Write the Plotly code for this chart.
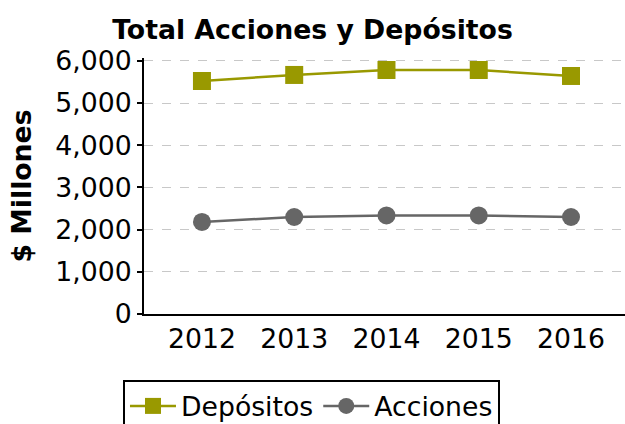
import plotly.graph_objects as go

years = ["2012", "2013", "2014", "2015", "2016"]
depositos = [5525, 5668, 5786, 5786, 5644]
acciones = [2182, 2300, 2336, 2336, 2300]
yticks = [0, 1000, 2000, 3000, 4000, 5000, 6000]
yticklabels = ["0", "1,000", "2,000", "3,000", "4,000", "5,000", "6,000"]

FONT = "DejaVu Sans"
FS = 26.7

fig = go.Figure()
fig.add_trace(go.Scatter(
    x=years, y=depositos, name="Depósitos", mode="lines+markers",
    line=dict(color="#999900", width=2.5),
    marker=dict(symbol="square", size=18, color="#999900"),
))
fig.add_trace(go.Scatter(
    x=years, y=acciones, name="Acciones", mode="lines+markers",
    line=dict(color="#666666", width=2.5),
    marker=dict(symbol="circle", size=18, color="#666666"),
))

fig.update_layout(
    width=625, height=424,
    margin=dict(l=144, r=0, t=58, b=110, autoexpand=False),
    paper_bgcolor="white", plot_bgcolor="white",
    font=dict(family=FONT, size=FS, color="black"),
    title=dict(text="<b>Total Acciones y Depósitos</b>", x=0.5, xanchor="center",
               y=0.929, yanchor="middle", font=dict(family=FONT, size=FS)),
    showlegend=True,
    legend=dict(orientation="h", x=-0.0437, xanchor="left", y=-0.258, yanchor="top",
                bordercolor="black", borderwidth=2, font=dict(size=FS),
                itemwidth=46, tracegroupgap=0),
)
fig.update_xaxes(
    type="category", range=[-0.628, 4.585], automargin=False,
    showline=True, linecolor="black", linewidth=2,
    ticks="", showgrid=False, tickfont=dict(size=FS),
)
fig.update_yaxes(
    range=[0, 6070], tickvals=yticks, ticktext=yticklabels, automargin=False,
    showline=True, linecolor="black", linewidth=2,
    ticks="outside", ticklen=5, tickcolor="black", tickwidth=2,
    showgrid=True, gridcolor="#c8c8c8", griddash="dash", gridwidth=1,
    zeroline=False, tickfont=dict(size=FS),
    title=dict(text="<b>$ Millones</b>", font=dict(size=FS), standoff=16),
)

fig.write_html("out.html", config={"displayModeBar": False},
               post_script="document.body.style.margin='0';")
